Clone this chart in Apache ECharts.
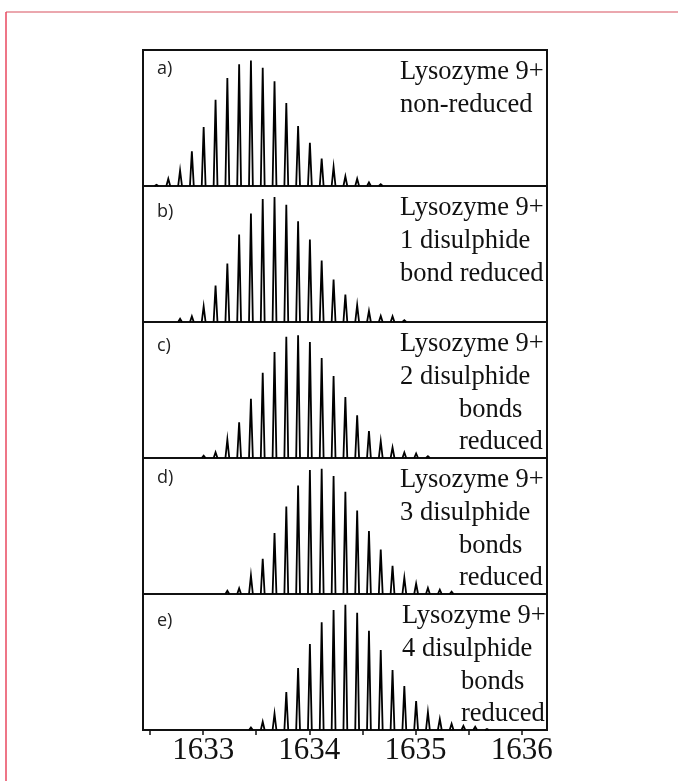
<!DOCTYPE html>
<html>
<head>
<meta charset="utf-8">
<script src="https://cdn.jsdelivr.net/npm/echarts@6/dist/echarts.min.js"></script>
<style>
  html, body { margin: 0; padding: 0; background: #fff; }
  #chart { width: 678px; height: 781px; }
</style>
</head>
<body>
<div id="chart"></div>
<script>
// isotope peak positions (m/z) and relative heights for each panel
const mzA = [1632.561, 1632.672, 1632.783, 1632.894, 1633.005, 1633.117, 1633.228, 1633.339, 1633.450, 1633.561,
             1633.672, 1633.783, 1633.894, 1634.005, 1634.116, 1634.228, 1634.339, 1634.450, 1634.561, 1634.672]
const hA = [1.0, 5.8, 12.5, 27.6, 47.0, 68.8, 86.0, 97.0, 100, 94.3, 83.4, 66.1, 47.8, 34.5, 21.8, 15.1, 7.7, 5.8, 2.9, 1.4]

const mzB = [1632.783, 1632.894, 1633.005, 1633.117, 1633.228, 1633.339, 1633.450, 1633.561, 1633.672, 1633.783,
             1633.894, 1634.005, 1634.116, 1634.228, 1634.339, 1634.450, 1634.561, 1634.672, 1634.783, 1634.894]
const hB = [2.6, 4.5, 12.5, 29.1, 46.6, 69.8, 86.4, 98.0, 99.6, 93.5, 80.2, 65.8, 49.0, 33.9, 21.8, 13.5, 8.8, 4.8, 4.5, 1.4]

const mzC = [1633.005, 1633.117, 1633.228, 1633.339, 1633.450, 1633.561, 1633.672, 1633.783, 1633.894, 1634.005,
             1634.116, 1634.228, 1634.339, 1634.450, 1634.561, 1634.672, 1634.783, 1634.894, 1635.005, 1635.116]
const hC = [1.8, 4.5, 14.7, 28.5, 47.2, 68.0, 84.5, 96.7, 97.8, 92.4, 79.7, 65.3, 48.5, 34.1, 21.4, 13.4, 8.4, 4.4, 3.6, 1.4]

const mzD = [1633.228, 1633.339, 1633.450, 1633.561, 1633.672, 1633.783, 1633.894, 1634.005, 1634.116, 1634.228,
             1634.339, 1634.450, 1634.561, 1634.672, 1634.783, 1634.894, 1635.005, 1635.116, 1635.228, 1635.339]
const hD = [2.6, 4.5, 14.7, 28.0, 48.5, 69.8, 86.4, 98.8, 99.9, 94.0, 81.5, 66.6, 50.1, 35.5, 22.4, 13.0, 8.2, 4.8, 3.4, 1.8]

const mzE = [1633.450, 1633.561, 1633.672, 1633.783, 1633.894, 1634.005, 1634.116, 1634.228, 1634.339, 1634.450,
             1634.561, 1634.672, 1634.783, 1634.894, 1635.005, 1635.116, 1635.228, 1635.339, 1635.450, 1635.561, 1635.672]
const hE = [2.0, 6.6, 13.0, 30.3, 49.4, 68.5, 85.8, 95.6, 99.9, 93.5, 79.1, 63.7, 47.8, 35.0, 23.1, 14.2, 8.8, 5.0, 3.3, 2.6, 0.8]

const panelLetters = ['a)', 'b)', 'c)', 'd)', 'e)']
const panelTexts = [
  ['Lysozyme 9+', 'non-reduced'],
  ['Lysozyme 9+', '1 disulphide', 'bond reduced'],
  ['Lysozyme 9+', '2 disulphide', 'bonds', 'reduced'],
  ['Lysozyme 9+', '3 disulphide', 'bonds', 'reduced'],
  ['Lysozyme 9+', '4 disulphide', 'bonds', 'reduced']
]

const xTickValues = [1632.5, 1633, 1633.5, 1634, 1634.5, 1635, 1635.5, 1636]
const xLabelValues = [1633, 1634, 1635, 1636]

const X_MIN = 1632.434
const X_MAX = 1636.237
const Y_MAX = 108.4
const PEAK_HALF = 0.018

const panels = [[mzA, hA], [mzB, hB], [mzC, hC], [mzD, hD], [mzE, hE]]
const PLOT_TOP = 50
const PANEL_H = 136
const lastIdx = panels.length - 1

const chart = echarts.init(document.getElementById('chart'))

const grids = panels.map((p, i) => ({
  left: 143,
  right: 131,
  top: PLOT_TOP + i * PANEL_H,
  height: PANEL_H,
  show: true,
  borderColor: '#111',
  borderWidth: 2,
  backgroundColor: 'transparent'
}))

const xAxes = panels.map((p, i) => ({
  type: 'value',
  gridIndex: i,
  min: X_MIN,
  max: X_MAX,
  show: i === lastIdx,
  splitLine: { show: false },
  axisLine: { show: false },
  axisTick: {
    show: true,
    customValues: xTickValues,
    length: 5,
    inside: false,
    lineStyle: { color: '#111', width: 1.5 }
  },
  axisLabel: {
    customValues: xLabelValues,
    formatter: v => String(v),
    margin: 5,
    fontFamily: '"Liberation Serif", "Times New Roman", serif',
    fontSize: 31,
    color: '#111'
  }
}))

const yAxes = panels.map((p, i) => ({
  type: 'value',
  gridIndex: i,
  min: 0,
  max: Y_MAX,
  show: false
}))

const series = panels.map((p, i) => ({
  type: 'custom',
  xAxisIndex: i,
  yAxisIndex: i,
  data: p[0].map((mz, j) => [mz, p[1][j]]),
  renderItem: (params, api) => {
    const mz = api.value(0)
    const h = api.value(1)
    const p0 = api.coord([mz - PEAK_HALF, 0])
    const p1 = api.coord([mz, h])
    const p2 = api.coord([mz + PEAK_HALF, 0])
    return {
      type: 'polyline',
      shape: { points: [p0, p1, p2] },
      style: { stroke: '#000', lineWidth: 1.8, fill: null, lineJoin: 'miter' }
    }
  },
  silent: true
}))

// panel labels and descriptions
const letterY = [70.5, 213.5, 347.5, 480, 623]
const lineOffsets = [36, 69, 102, 134]
const graphics = []
panelLetters.forEach((t, i) => {
  graphics.push({
    type: 'text', left: 157, top: letterY[i] - 11,
    style: { text: t, font: '18px "Open Sans", "Noto Sans", sans-serif', fill: '#222' }
  })
})
panelTexts.forEach((lines, i) => {
  const top = PLOT_TOP + i * PANEL_H
  lines.forEach((t, j) => {
    const indent = j >= 2 && lines.length > 3
    graphics.push({
      type: 'text',
      x: indent ? (i === 4 ? 461 : 459) : (i === 4 ? 402 : 400),
      y: top + lineOffsets[j],
      style: {
        text: t,
        font: '26.5px "Liberation Serif", "Times New Roman", serif',
        fill: '#111',
        verticalAlign: 'bottom'
      }
    })
  })
})

// page frame lines
graphics.push({
  type: 'line', shape: { x1: 6, y1: 12, x2: 678, y2: 12 },
  style: { stroke: '#e58a93', lineWidth: 1.5 }
})
graphics.push({
  type: 'line', shape: { x1: 6, y1: 12, x2: 6, y2: 781 },
  style: { stroke: '#e8475f', lineWidth: 1.5 }
})

chart.setOption({
  animation: false,
  grid: grids,
  xAxis: xAxes,
  yAxis: yAxes,
  series: series,
  graphic: graphics
})
</script>
</body>
</html>
